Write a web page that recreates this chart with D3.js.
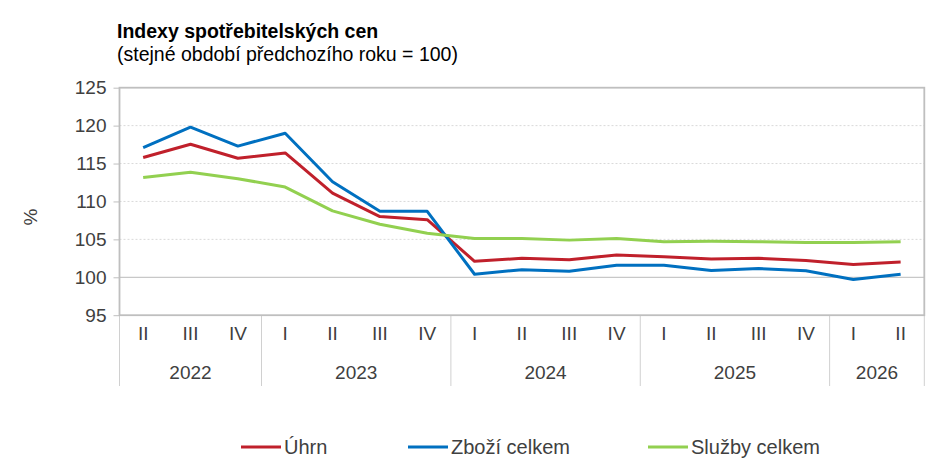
<!DOCTYPE html>
<html>
<head>
<meta charset="utf-8">
<script src="https://cdn.jsdelivr.net/npm/d3@7/dist/d3.min.js"></script>
<style>
  body { margin: 0; background: #fff; }
  svg text { font-family: "Liberation Sans", Arial, sans-serif; fill: #404040; }
  .grid line { stroke: #d9d9d9; stroke-dasharray: 2,2; }
</style>
</head>
<body>
<div id="chart"></div>
<script>
// quarters shown on the axis
var quarters = ['II','III','IV','I','II','III','IV','I','II','III','IV','I','II','III','IV','I','II'];
var years = ['2022','2023','2024','2025','2026'];
var yearQuarters = [3, 4, 4, 4, 2];

var uhrn   = [115.8, 117.55, 115.7, 116.4, 111.1, 108.0, 107.6, 102.1, 102.5, 102.3, 102.95, 102.7, 102.4, 102.5, 102.2, 101.7, 102.0];
var zbozi  = [117.1, 119.8, 117.3, 119.0, 112.6, 108.7, 108.7, 100.4, 101.0, 100.8, 101.6, 101.6, 100.9, 101.15, 100.85, 99.7, 100.4];
var sluzby = [113.15, 113.85, 113.0, 111.9, 108.75, 107.0, 105.8, 105.1, 105.1, 104.9, 105.1, 104.7, 104.75, 104.7, 104.6, 104.6, 104.7];

var yTicks = [95, 100, 105, 110, 115, 120, 125];

var series = [
  { name: 'Úhrn',          values: uhrn,   color: '#c0202b', lx: 241 },
  { name: 'Zboží celkem',  values: zbozi,  color: '#0070c0', lx: 408 },
  { name: 'Služby celkem', values: sluzby, color: '#92d050', lx: 648 }
];

var W = 945, H = 476;
var pLeft = 119.5, pRight = 924.3, pTop = 87.7, pBottom = 315.2;

var svg = d3.select('#chart').append('svg')
  .attr('width', W)
  .attr('height', H);

var idx = d3.range(quarters.length);

var x = d3.scaleBand()
  .domain(idx)
  .range([pLeft, pRight]);

var y = d3.scaleLinear()
  .domain([95, 125])
  .range([pBottom, pTop]);

// dotted grid
svg.append('g')
  .attr('class', 'grid')
  .selectAll('line')
  .data(yTicks.filter(function(t) { return t > 100 && t < 125; }))
  .enter().append('line')
  .attr('x1', pLeft).attr('x2', pRight)
  .attr('y1', function(d) { return y(d); })
  .attr('y2', function(d) { return y(d); });

// 100 line
svg.append('line')
  .attr('x1', pLeft).attr('x2', pRight)
  .attr('y1', y(100)).attr('y2', y(100))
  .attr('stroke', '#c8c8c8').attr('stroke-width', 1.2);

// y axis
var yAxis = svg.append('g')
  .attr('transform', 'translate(' + pLeft + ',0)')
  .call(d3.axisLeft(y).tickValues(yTicks).tickSize(6).tickPadding(7));
yAxis.select('.domain').remove();
yAxis.selectAll('.tick line').attr('stroke', '#bfbfbf');
yAxis.selectAll('.tick text').style('font-size', '19px').attr('fill', '#404040');

// quarter labels
var xAxis = svg.append('g')
  .attr('transform', 'translate(0,' + pBottom + ')')
  .call(d3.axisBottom(x).tickSize(0).tickPadding(11)
    .tickFormat(function(d) { return quarters[d]; }));
xAxis.select('.domain').remove();
xAxis.selectAll('.tick text').style('font-size', '19px').attr('fill', '#404040');

// year groups
var starts = [0];
yearQuarters.forEach(function(n, i) { starts.push(starts[i] + n); });

var bounds = starts.map(function(s) {
  return s < quarters.length ? x(s) : pRight;
});

svg.append('g').selectAll('line')
  .data(bounds)
  .enter().append('line')
  .attr('x1', function(d) { return d; })
  .attr('x2', function(d) { return d; })
  .attr('y1', pBottom)
  .attr('y2', 386)
  .attr('stroke', '#d0d0d0')
  .attr('stroke-width', 1);

svg.append('g').selectAll('text')
  .data(years)
  .enter().append('text')
  .attr('x', function(d, i) { return (bounds[i] + bounds[i + 1]) / 2; })
  .attr('y', 379)
  .attr('text-anchor', 'middle')
  .style('font-size', '19px')
  .text(function(d) { return d; });

// plot frame
svg.append('rect')
  .attr('x', pLeft).attr('y', pTop)
  .attr('width', pRight - pLeft).attr('height', pBottom - pTop)
  .attr('fill', 'none')
  .attr('stroke', '#bfbfbf')
  .attr('stroke-width', 1.8);

// lines
var line = d3.line()
  .x(function(d, i) { return x(i) + x.bandwidth() / 2; })
  .y(function(d) { return y(d); });

svg.append('g').selectAll('path')
  .data(series)
  .enter().append('path')
  .attr('d', function(s) { return line(s.values); })
  .attr('fill', 'none')
  .attr('stroke', function(s) { return s.color; })
  .attr('stroke-width', 3)
  .attr('stroke-linejoin', 'round');

// titles
svg.append('text')
  .attr('x', 117).attr('y', 38)
  .style('font-size', '19.5px')
  .style('font-weight', 'bold')
  .style('fill', '#000')
  .text('Indexy spotřebitelských cen');

svg.append('text')
  .attr('x', 117).attr('y', 61)
  .style('font-size', '19.5px')
  .style('fill', '#000')
  .text('(stejné období předchozího roku = 100)');

svg.append('text')
  .attr('transform', 'translate(37,217) rotate(-90)')
  .attr('text-anchor', 'middle')
  .style('font-size', '19px')
  .text('%');

// legend
var lg = svg.append('g').selectAll('g')
  .data(series)
  .enter().append('g')
  .attr('transform', function(s) { return 'translate(' + s.lx + ',447)'; });

lg.append('line')
  .attr('x1', 0).attr('x2', 40)
  .attr('stroke', function(s) { return s.color; })
  .attr('stroke-width', 3);

lg.append('text')
  .attr('x', 43).attr('y', 7)
  .style('font-size', '20px')
  .text(function(s) { return s.name; });
</script>
</body>
</html>
